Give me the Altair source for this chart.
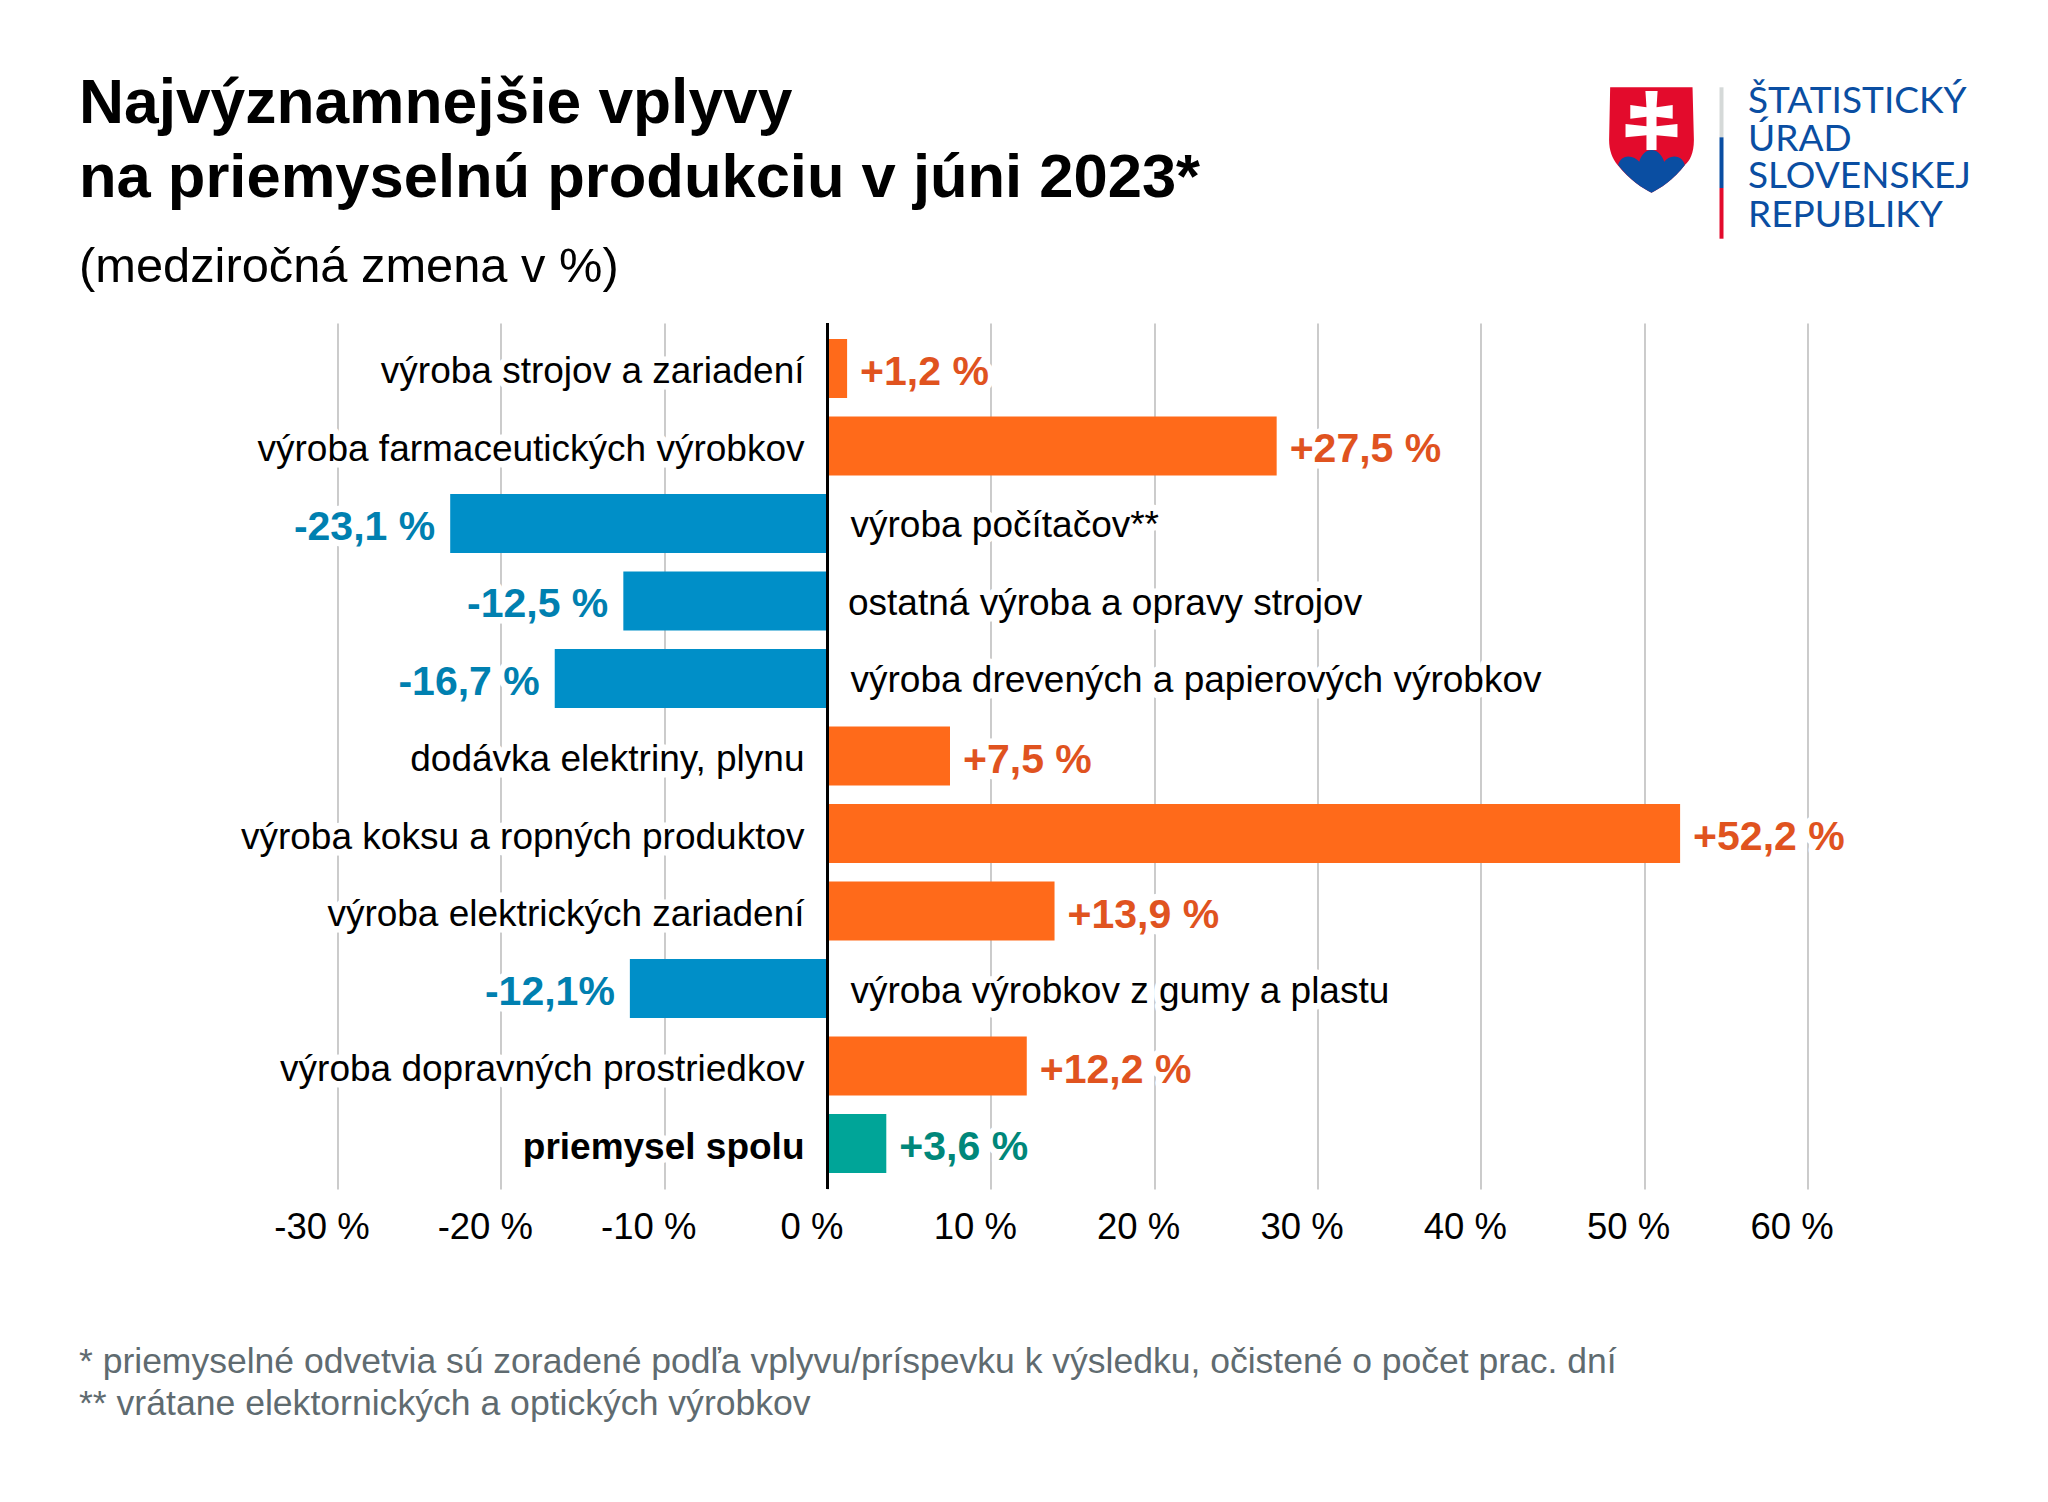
import altair as alt
import pandas as pd

categories = ["výroba strojov a zariadení", "výroba farmaceutických výrobkov", "výroba počítačov**",
              "ostatná výroba a opravy strojov", "výroba drevených a papierových výrobkov",
              "dodávka elektriny, plynu", "výroba koksu a ropných produktov", "výroba elektrických zariadení",
              "výroba výrobkov z gumy a plastu", "výroba dopravných prostriedkov", "priemysel spolu"]
values = [1.2, 27.5, -23.1, -12.5, -16.7, 7.5, 52.2, 13.9, -12.1, 12.2, 3.6]
value_labels = ["+1,2 %", "+27,5 %", "-23,1 %", "-12,5 %", "-16,7 %", "+7,5 %", "+52,2 %", "+13,9 %",
                "-12,1%", "+12,2 %", "+3,6 %"]
bar_colors = ["#ff6a1a", "#008fc8", "#00a598"]
text_colors = ["#e0531f", "#0080b0", "#00877a"]
ticks = [-30, -20, -10, 0, 10, 20, 30, 40, 50, 60]

# plot area on the page
LEFT, TOP, W, H = 337.5, 323, 1470, 866
FONT = "Liberation Sans"

def kind(i):
    return 2 if i == len(values) - 1 else (0 if values[i] > 0 else 1)

df = pd.DataFrame({
    "cat": categories, "value": values, "label": value_labels,
    "bar": [bar_colors[kind(i)] for i in range(len(values))],
    "txt": [text_colors[kind(i)] for i in range(len(values))],
    "kind": [kind(i) for i in range(len(values))],
})

yenc = alt.Y("cat:N", sort=categories, axis=None,
             scale=alt.Scale(paddingInner=0.24, paddingOuter=0.207))
xscale = alt.Scale(domain=[-30, 60], nice=False, zero=False)
xenc = alt.X("value:Q", scale=xscale, title=None,
             axis=alt.Axis(values=ticks, labelExpr="datum.value + ' %'", ticks=False, domain=False,
                           gridColor="#b0b0b0", gridWidth=1.3, labelFontSize=36.5, labelFont=FONT,
                           labelColor="#000000", labelPadding=20, labelOffset=-16, labelFlush=False,
                           labelOverlap=False, labelBound=False, labelBaseline="top"))
xplain = alt.X("value:Q", scale=xscale, title=None)
zero = alt.datum(0, scale=xscale, title=None)

pos = df[df.value > 0]
neg = df[df.value < 0]
parts = df[df.kind != 2]
pos_parts = parts[parts.value > 0]
total = df[df.kind == 2]
other = df[df.cat.str.startswith("ostatná")]
neg_rest = neg[~neg.cat.str.startswith("ostatná")]

def cat_text(d, align, dx, dy, weight="normal", halo=False):
    kw = dict(stroke="white", strokeWidth=13, strokeJoin="round") if halo else {}
    return alt.Chart(d).mark_text(font=FONT, fontSize=37, fontWeight=weight, align=align, dx=dx, dy=dy,
                                  color="#000000", **kw).encode(x=zero, y=yenc, text="cat:N")

def val_text(d, align, dx, dy, halo=False):
    kw = dict(stroke="white", strokeWidth=13, strokeJoin="round") if halo else {}
    m = alt.Chart(d).mark_text(font=FONT, fontSize=41, fontWeight="bold", align=align, dx=dx, dy=dy, **kw)
    if halo:
        return m.encode(x=xplain, y=yenc, text="label:N")
    return m.encode(x=xplain, y=yenc, text="label:N", color=alt.Color("txt:N", scale=None, legend=None))

def text_layers(halo):
    return [cat_text(pos_parts, "right", -23, 4, halo=halo), cat_text(neg_rest, "left", 23, 3, halo=halo),
            cat_text(other, "left", 20.5, 3, halo=halo), cat_text(total, "right", -23, 4, "bold", halo=halo),
            val_text(pos, "left", 13, 4.5, halo=halo), val_text(neg, "right", -15, 4.5, halo=halo)]

base = alt.Chart(df).mark_bar(opacity=0).encode(x=xenc, y=yenc)
bars = alt.Chart(df).mark_bar().encode(x=xplain, x2=alt.X2(datum=0), y=yenc,
                                       color=alt.Color("bar:N", scale=None, legend=None))
zero_line = alt.Chart(df.head(1)).mark_rule(color="#000000", strokeWidth=3).encode(x=zero)

one = pd.DataFrame({"a": [0]})

def note(text, x, y, size, color="#000000", weight="normal", font=FONT, **kw):
    return alt.Chart(one).mark_text(font=font, fontSize=size, fontWeight=weight, align="left",
                                    baseline="alphabetic", color=color, **kw).encode(
        x=alt.value(x - LEFT), y=alt.value(y - TOP), text=alt.value(text))

notes = [
    note("Najvýznamnejšie vplyvy", 79, 122.5, 62.3, weight="bold"),
    note("na priemyselnú produkciu v júni 2023*", 79, 196.5, 61.5, weight="bold"),
    note("(medziročná zmena v %)", 79, 281.5, 48.8),
    note("* priemyselné odvetvia sú zoradené podľa vplyvu/príspevku k výsledku, očistené o počet prac. dní",
         79, 1372.5, 35.5, color="#5f6b70"),
    note("** vrátane elektornických a optických výrobkov", 79, 1415, 35.6, color="#5f6b70"),
]

# logo
LOGO_BLUE = "#0a4ea2"
logo_lines = ["ŠTATISTICKÝ", "ÚRAD", "SLOVENSKEJ", "REPUBLIKY"]
logo_base = [113, 151, 188, 227]
logo_text = [note(t, 1748, b, 37, color=LOGO_BLUE, font="Lato") for t, b in zip(logo_lines, logo_base)]

SHIELD = ("M-0.78 -0.994 L0.774 -0.994 L0.80 0 C0.80 0.25 0.72 0.4 0.63 0.47 C0.42 0.75 0.15 0.92 0 0.994 "
          "C-0.15 0.92 -0.42 0.75 -0.64 0.47 C-0.74 0.35 -0.80 0.2 -0.80 0 Z")
HILLS = ("M-0.63 0.47 C-0.6 0.36 -0.52 0.31 -0.44 0.31 C-0.35 0.31 -0.28 0.35 -0.23 0.41 C-0.2 0.28 -0.1 0.19 0 0.19 "
         "C0.1 0.19 0.2 0.28 0.24 0.41 C0.28 0.35 0.35 0.31 0.43 0.31 C0.52 0.31 0.6 0.36 0.63 0.47 "
         "C0.42 0.75 0.15 0.92 0 0.994 C-0.15 0.92 -0.42 0.75 -0.63 0.47 Z")
CROSS = ("M-0.115 -0.925 L0.115 -0.925 L0.095 -0.62 L0.40 -0.66 L0.40 -0.40 L0.095 -0.44 L0.095 -0.26 "
         "L0.49 -0.30 L0.49 -0.05 L0.095 -0.09 L0.095 0.19 L-0.095 0.19 L-0.095 -0.09 L-0.49 -0.05 L-0.49 -0.30 "
         "L-0.095 -0.26 L-0.095 -0.44 L-0.40 -0.40 L-0.40 -0.66 L-0.095 -0.62 Z")

def symbol(path, color):
    return alt.Chart(one).mark_point(shape=path, filled=True, fill=color, opacity=1,
                                     size=106 ** 2).encode(x=alt.value(1651.5 - LEFT), y=alt.value(140 - TOP))

logo_shapes = [symbol(SHIELD, "#e30b2c"), symbol(HILLS, LOGO_BLUE), symbol(CROSS, "#ffffff")]

def divider(y1, y2, color):
    return alt.Chart(one).mark_rule(color=color, strokeWidth=4).encode(
        x=alt.value(1721.5 - LEFT), y=alt.value(y1 - TOP), y2=alt.value(y2 - TOP))

dividers = [divider(87.3, 137.3, "#d5d9d8"), divider(137.3, 188, LOGO_BLUE), divider(188, 238.7, "#e30b2c")]

chart = alt.layer(base, *text_layers(True), bars, zero_line, *text_layers(False), *notes, *logo_shapes,
                  *dividers, *logo_text).properties(
    width=W, height=H,
    autosize=alt.AutoSizeParams(type="none"),
    padding={"left": LEFT - 8, "top": TOP - 8, "right": 2040 - LEFT - W, "bottom": 1494 - TOP - H},
    background="white",
).configure_view(stroke=None)

chart.save("out.html", embed_options={"renderer": "svg", "actions": False})
